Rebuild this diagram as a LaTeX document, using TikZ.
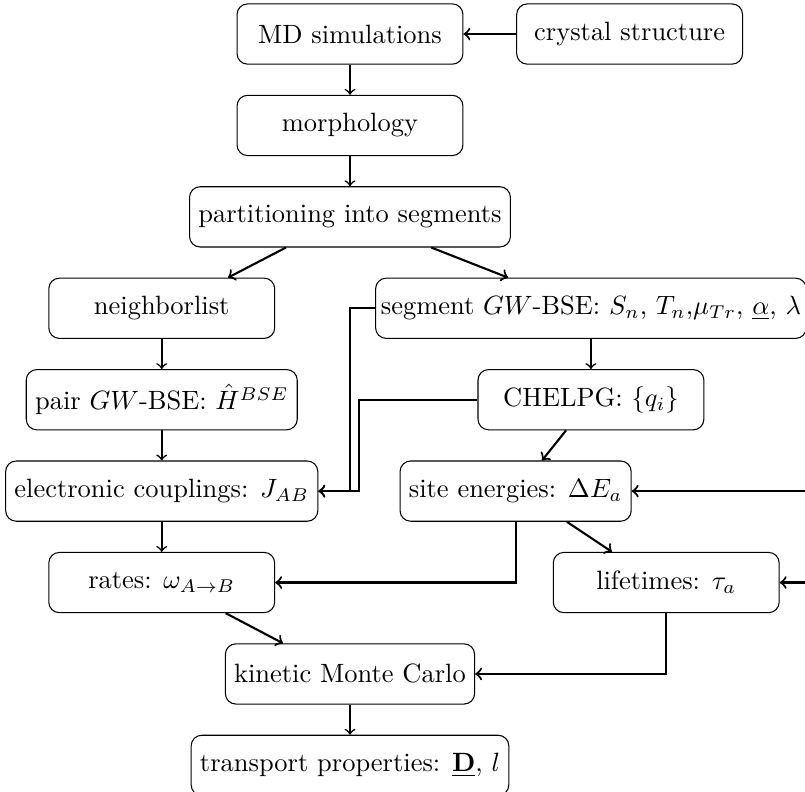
\documentclass[tikz,border=0pt]{standalone}
\usetikzlibrary{positioning}

\begin{document}
\begin{tikzpicture}[node distance=0.4cm]
    \tikzstyle{box} = [rectangle, rounded corners, minimum width=3cm, minimum height=0.8cm, text centered, align=center, draw=black]
    \tikzstyle{arrow} = [semithick,->]
    \tikzstyle{link} = [thick,->]

    \clip (-4.648,-10.053) rectangle (6.043,0.452);

    \node (md) [box] {MD simulations};
    \node (crystal) [box, right=0.7cm of md] {crystal structure};
    \node (morph) [box, below=of md] {morphology};
    \node (part) [box, below=of morph] {partitioning into segments};
    \node (neigh) [box, below=of part, xshift=-2.5cm] {neighborlist};
    \node (seg) [box, below=of part, xshift=3.2cm, inner xsep=2pt] {segment $GW$-BSE: $S_n$, $T_n$,$\mu_{Tr}$, $\underline{\alpha}$, $\lambda$};
    \node (pair) [box, below=of neigh] {pair $GW$-BSE: ${\hat{H}}^{BSE}$};
    \node (chelpg) [box, below=of seg] {CHELPG: $\{q_i\}$};
    \node (elec) [box, below=of pair] {electronic couplings: $J_{AB}$};
    \node (site) [box, below=of chelpg, xshift=-1cm] {site energies: $\Delta E_a$};
    \node (rates) [box, below=of elec] {rates: $\omega_{A\rightarrow B}$};
    \node (life) [box, below=of site, xshift=2cm] {lifetimes: $\tau_a$};
    \node (kmc) [box, below=of rates, xshift=2.5cm] {kinetic Monte Carlo};
    \node (trans) [box, below=of kmc] {transport properties: $\underline{\mathbf{D}}$, $l$};

    \draw [link] (crystal) -- (md);
    \draw [arrow] (md) -- (morph);
    \draw [arrow] (morph) -- (part);
    \draw [link] ([xshift=-0.85cm]part.south) -- ([xshift=0.88cm]neigh.north);
    \draw [link] ([xshift=1.08cm]part.south) -- ([xshift=-1.1cm]seg.north);
    \draw [arrow] (neigh) -- (pair);
    \draw [arrow] (pair) -- (elec);
    \draw [arrow] (seg) -- (chelpg);
    \draw [link] (seg.west) -- (seg.west -| md.center) |- (elec.east);
    \draw [link] (chelpg.west) -- ++(-1.57,0) |- (elec.east);
    \draw [link] ([xshift=-0.33cm]chelpg.south) -- ([xshift=0.35cm]site.north);
    \draw [link] (seg.east) -- ++(0.4,0) coordinate (loop) |- (site.east);
    \draw [link] (loop) |- (life.east);
    \draw [link] ([xshift=0.68cm]site.south) -- ([xshift=-0.72cm]life.north);
    \draw [link] (site.south) |- (rates.east);
    \draw [arrow] (elec) -- (rates);
    \draw [link] ([xshift=0.85cm]rates.south) -- ([xshift=-0.89cm]kmc.north);
    \draw [link] (life.south) |- (kmc.east);
    \draw [arrow] (kmc) -- (trans);
\end{tikzpicture}
\end{document}
